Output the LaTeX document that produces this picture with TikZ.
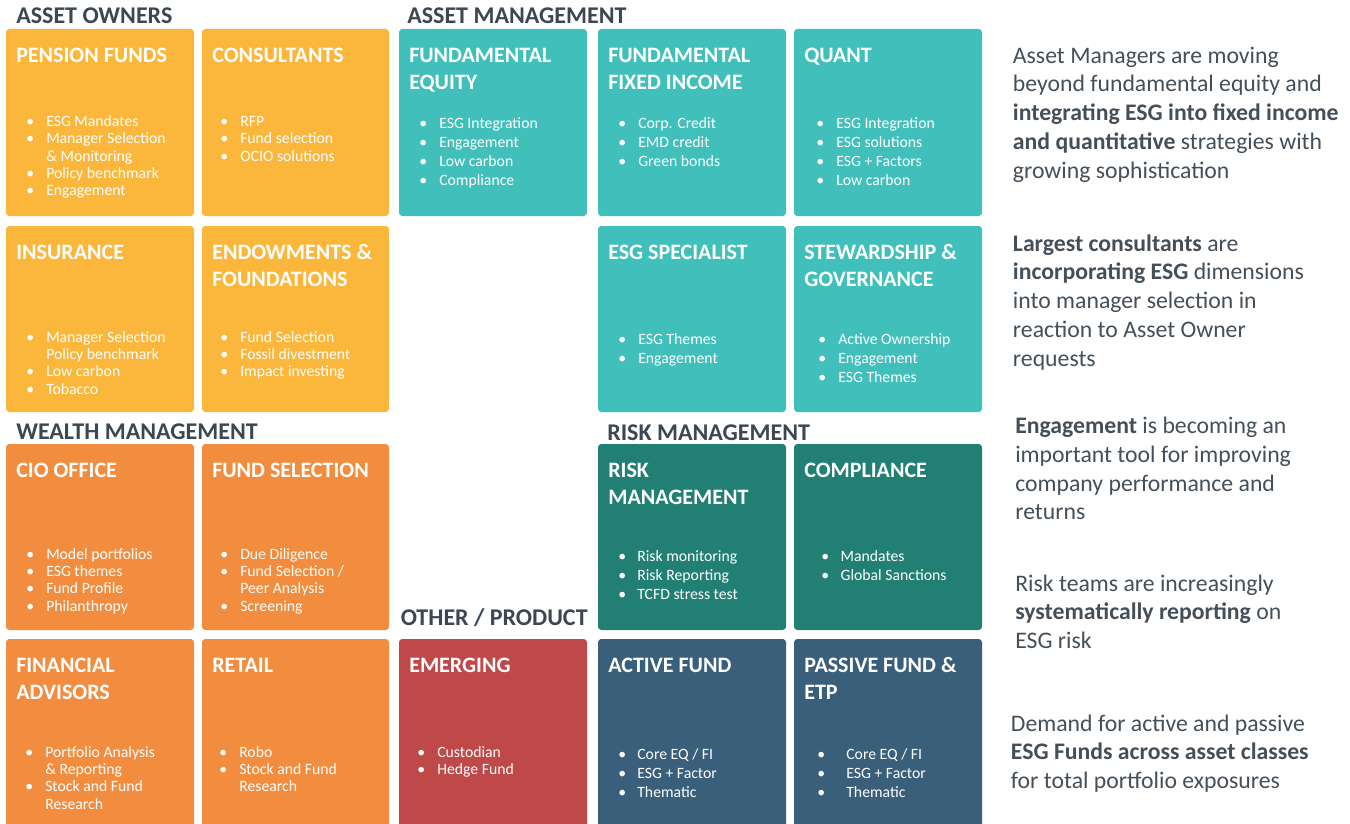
\documentclass[tikz,border=0pt]{standalone}
\usepackage{fontspec}
\setmainfont{Carlito}
\definecolor{yel}{HTML}{FBB73C}
\definecolor{org}{HTML}{F28D3F}
\definecolor{teal1}{HTML}{41C0BB}
\definecolor{teal2}{HTML}{227F73}
\definecolor{redc}{HTML}{BF4848}
\definecolor{bluec}{HTML}{3A5F7B}
\definecolor{hdr}{HTML}{3D4752}
\definecolor{txt}{HTML}{454F58}
\newlength\bw
\newcommand\bi[1]{\makebox[0pt]{\textbullet}\hspace*{\bw}#1}
\newcommand\bc[1]{\hspace*{\bw}#1}
\newcommand\cell[6]{\node[cellbox, fill=#2, minimum width={(#5-#3)*0.75pt}, minimum height={(#6-#4)*0.75pt}] (#1) at ({(#3+#5)/2},{(#4+#6)/2}) {};}
\tikzset{
  cellbox/.style={rounded corners=2.5pt, inner sep=0pt, draw=none},
  ttl/.style={text=white, font=\fontsize{16.5}{20.25}\selectfont\bfseries, align=left, inner sep=0pt, anchor=base west},
  sect/.style={text=hdr, font=\fontsize{18}{20}\selectfont\bfseries, inner sep=0pt, anchor=base west},
  bgap/.style={execute at begin node={\setlength{\bw}{#1}}},
  itA/.style={text=white, font=\fontsize{11.8}{13}\selectfont, align=left, inner sep=0pt, anchor=base west, bgap=12pt, yshift={-(#1-1)*13pt}},
  itB/.style={text=white, font=\fontsize{11.8}{14.3}\selectfont, align=left, inner sep=0pt, anchor=base west, bgap=12pt, yshift={-(#1-1)*14.3pt}},
  ttl2/.style={ttl, yshift=-20.25pt},
  note/.style={text=txt, font=\fontsize{17.8}{21.6}\selectfont, align=left, inner sep=0pt, anchor=base west, yshift={-(#1-1)*21.6pt}},
}
\begin{document}
\begin{tikzpicture}[x=0.75pt,y=-0.75pt]
\useasboundingbox (0,0) rectangle (1350,824);
\fill[white] (0,0) rectangle (1350,824);
\clip (0,0) rectangle (1350,824);

% section headers
\node[sect] (h1) at (16,23.5) {ASSET OWNERS};
\node[sect] (h2) at (407,23.5) {ASSET MANAGEMENT};
\node[sect] (h3) at (16,439.5) {WEALTH MANAGEMENT};
\node[sect] (h4) at (607,440) {RISK MANAGEMENT};
\node[sect] (h5) at (400.5,625) {OTHER / PRODUCT};

% row 1
\cell{pf}{yel}{6}{29}{194}{216}
\cell{co}{yel}{202}{29}{389}{216}
\cell{fe}{teal1}{399}{29}{587}{216}
\cell{fi}{teal1}{598}{29}{786}{216}
\cell{qu}{teal1}{794}{29}{982}{216}
% row 2
\cell{in}{yel}{6}{226}{194}{412}
\cell{en}{yel}{202}{226}{389}{412}
\cell{es}{teal1}{598}{226}{786}{412}
\cell{st}{teal1}{794}{226}{982}{412}
% row 3
\cell{ci}{org}{6}{444}{194}{630}
\cell{fs}{org}{202}{444}{389}{630}
\cell{rm}{teal2}{598}{444}{786}{630}
\cell{cm}{teal2}{794}{444}{982}{630}
% row 4
\cell{fa}{org}{6}{639}{194}{834}
\cell{re}{org}{202}{639}{389}{834}
\cell{em}{redc}{399}{639}{587}{834}
\cell{ac}{bluec}{598}{639}{786}{834}
\cell{pa}{bluec}{794}{639}{982}{834}

% titles
\node[ttl] (pf-t) at (16,62.5) {PENSION FUNDS};
\node[ttl] (co-t) at (212,62.5) {CONSULTANTS};
\node[ttl2] (fe-t) at (409,62.5) {FUNDAMENTAL\\EQUITY};
\node[ttl2] (fi-t) at (608,62.5) {FUNDAMENTAL\\FIXED INCOME};
\node[ttl] (qu-t) at (804,62.5) {QUANT};
\node[ttl] (in-t) at (16,259.5) {INSURANCE};
\node[ttl2] (en-t) at (212,259.5) {ENDOWMENTS \&\\FOUNDATIONS};
\node[ttl] (es-t) at (608,259.5) {ESG SPECIALIST};
\node[ttl2] (st-t) at (804,259.5) {STEWARDSHIP \&\\GOVERNANCE};
\node[ttl] (ci-t) at (16,477.5) {CIO OFFICE};
\node[ttl] (fs-t) at (212,477.5) {FUND SELECTION};
\node[ttl2] (rm-t) at (608,477.5) {RISK\\MANAGEMENT};
\node[ttl] (cm-t) at (804,477.5) {COMPLIANCE};
\node[ttl2] (fa-t) at (16,672.5) {FINANCIAL\\ADVISORS};
\node[ttl] (re-t) at (212,672.5) {RETAIL};
\node[ttl] (em-t) at (409,672.5) {EMERGING};
\node[ttl] (ac-t) at (608,672.5) {ACTIVE FUND};
\node[ttl2] (pa-t) at (804,672.5) {PASSIVE FUND \&\\ETP};

% items
\node[itA=5] (pf-i) at (30,126.5) {\bi{ESG Mandates}\\\bi{Manager Selection}\\\bc{\& Monitoring}\\\bi{Policy benchmark}\\\bi{Engagement}};
\node[itA=3] (co-i) at (224,126.5) {\bi{RFP}\\\bi{Fund selection}\\\bi{OCIO solutions}};
\node[itB=4] (fe-i) at (423,128.5) {\bi{ESG Integration}\\\bi{Engagement}\\\bi{Low carbon}\\\bi{Compliance}};
\node[itB=3] (fi-i) at (622,128.5) {\bi{Corp. Credit}\\\bi{EMD credit}\\\bi{Green bonds}};
\node[itB=4] (qu-i) at (820,128.5) {\bi{ESG Integration}\\\bi{ESG solutions}\\\bi{ESG + Factors}\\\bi{Low carbon}};
\node[itA=4] (in-i) at (30,342) {\bi{Manager Selection}\\\bc{Policy benchmark}\\\bi{Low carbon}\\\bi{Tobacco}};
\node[itA=3] (en-i) at (224,342) {\bi{Fund Selection}\\\bi{Fossil divestment}\\\bi{Impact investing}};
\node[itB=2] (es-i) at (622,344) {\bi{ESG Themes}\\\bi{Engagement}};
\node[itB=3] (st-i) at (822,344) {\bi{Active Ownership}\\\bi{Engagement}\\\bi{ESG Themes}};
\node[itA=4] (ci-i) at (30,559) {\bi{Model portfolios}\\\bi{ESG themes}\\\bi{Fund Profile}\\\bi{Philanthropy}};
\node[itA=4] (fs-i) at (224,559) {\bi{Due Diligence}\\\bi{Fund Selection /}\\\bc{Peer Analysis}\\\bi{Screening}};
\node[itB=3, bgap=11.3pt] (rm-i) at (622,561.5) {\bi{Risk monitoring}\\\bi{Risk Reporting}\\\bi{TCFD stress test}};
\node[itB=2, bgap=11.5pt] (cm-i) at (825,561.5) {\bi{Mandates}\\\bi{Global Sanctions}};
\node[itA=4] (fa-i) at (29,757) {\bi{Portfolio Analysis}\\\bc{\& Reporting}\\\bi{Stock and Fund}\\\bc{Research}};
\node[itA=3] (re-i) at (223,757) {\bi{Robo}\\\bi{Stock and Fund}\\\bc{Research}};
\node[itA=2] (em-i) at (421,757) {\bi{Custodian}\\\bi{Hedge Fund}};
\node[itB=3, bgap=11.3pt] (ac-i) at (622,759.5) {\bi{Core EQ / FI}\\\bi{ESG + Factor}\\\bi{Thematic}};
\node[itB=3, bgap=18.8pt] (pa-i) at (821,759.5) {\bi{Core EQ / FI}\\\bi{ESG + Factor}\\\bi{Thematic}};

% notes
\node[note=5] (n1) at (1012.7,63) {Asset Managers are moving\\beyond fundamental equity and\\\textbf{integrating ESG into fixed income}\\\textbf{and quantitative} strategies with\\growing sophistication};
\node[note=5] (n2) at (1012.7,251) {\textbf{Largest consultants} are\\\textbf{incorporating ESG} dimensions\\into manager selection in\\reaction to Asset Owner\\requests};
\node[note=4] (n3) at (1015,433.5) {\textbf{Engagement} is becoming an\\important tool for improving\\company performance and\\returns};
\node[note=3] (n4) at (1015,591) {Risk teams are increasingly\\\textbf{systematically reporting} on\\ESG risk};
\node[note=3] (n5) at (1010.7,731) {Demand for active and passive\\\textbf{ESG Funds across asset classes}\\for total portfolio exposures};
\end{tikzpicture}
\end{document}
